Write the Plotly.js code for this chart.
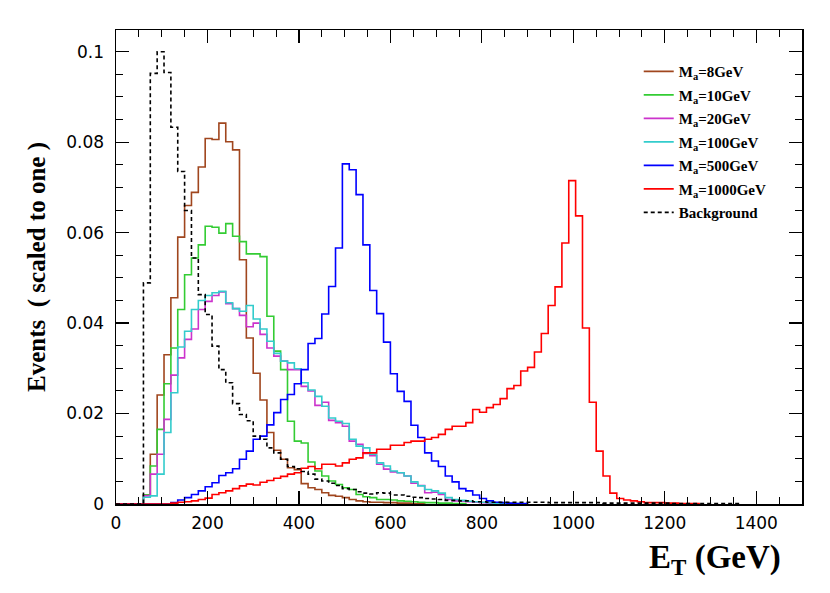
<!DOCTYPE html>
<html>
<head>
<meta charset="utf-8">
<script src="https://cdn.plot.ly/plotly-3.0.1.min.js"></script>
<style>
  html, body { margin: 0; padding: 0; background: #fff; }
  #grafico { width: 830px; height: 593px; }
</style>
</head>
<body>
<div id="grafico"></div>
<script>
// histogram binning: 15 GeV bins starting at 0
const BIN_WIDTH = 15;

// bin contents (scaled to one), bin 0 = [0,15) GeV
const ma8 = [
  0, 0, 0, 0, 0.002, 0.011, 0.0241, 0.033, 0.0456, 0.059,
  0.066, 0.0689, 0.0745, 0.0808, 0.0806, 0.0842, 0.0801, 0.0783, 0.054, 0.0367,
  0.0289, 0.023, 0.0158, 0.0119, 0.0099, 0.008, 0.0076, 0.0045, 0.0036, 0.0032,
  0.0025, 0.0019, 0.0017, 0.0014, 0.001, 0.0007, 0.0005, 0.0004, 0.0004, 0.0003,
  0.0003, 0.0002, 0.0002, 0.0001, 0.0001
];
const ma10 = [
  0, 0, 0, 0, 0.002, 0.0084, 0.0165, 0.0266, 0.0345, 0.043,
  0.0507, 0.0544, 0.0573, 0.0614, 0.0612, 0.0599, 0.062, 0.0592, 0.058, 0.0553,
  0.0553, 0.0547, 0.0415, 0.0338, 0.0297, 0.0183, 0.0139, 0.0135, 0.0093, 0.0073,
  0.0062, 0.0051, 0.0043, 0.0036, 0.0032, 0.0021, 0.0016, 0.0014, 0.001, 0.001,
  0.0009, 0.0007, 0.0006, 0.0005, 0.0004, 0.0003, 0.0003, 0.0002, 0.0002, 0.0001,
  0.0001
];
const ma20 = [
  0, 0, 0, 0, 0.0018, 0.0066, 0.011, 0.0187, 0.0285, 0.0323,
  0.0364, 0.0387, 0.043, 0.0448, 0.0461, 0.0469, 0.0443, 0.0432, 0.0417, 0.0392,
  0.040, 0.0375, 0.0345, 0.0327, 0.0316, 0.0297, 0.0297, 0.026, 0.025, 0.0218,
  0.0225, 0.0185, 0.018, 0.0172, 0.0139, 0.0132, 0.0112, 0.0107, 0.0088, 0.0077,
  0.0071, 0.0069, 0.0062, 0.0046, 0.0041, 0.0025, 0.0026, 0.0021, 0.001, 0.0007,
  0.0006, 0.0005, 0.0004, 0.0003, 0.0002, 0.0002, 0.0001, 0.0001
];
const ma100 = [
  0, 0, 0, 0, 0.0015, 0.0018, 0.0066, 0.0158, 0.0246, 0.0347,
  0.0382, 0.043, 0.045, 0.0461, 0.0467, 0.047, 0.0445, 0.0432, 0.0426, 0.0439,
  0.0409, 0.0387, 0.036, 0.0333, 0.0316, 0.0312, 0.0299, 0.0268, 0.0252, 0.0238,
  0.0216, 0.019, 0.0183, 0.0178, 0.0143, 0.0128, 0.0124, 0.011, 0.0091, 0.0084,
  0.0073, 0.0069, 0.0062, 0.0049, 0.004, 0.0032, 0.0029, 0.0024, 0.0014, 0.001,
  0.0008, 0.0006, 0.0005, 0.0004, 0.0003, 0.0002, 0.0002, 0.0001, 0.0001
];
const ma500 = [
  0, 0, 0, 0, 0, 0, 0, 0, 0.0003, 0.0009,
  0.0014, 0.0021, 0.0029, 0.0038, 0.0047, 0.0063, 0.0069, 0.0078, 0.0099, 0.0117,
  0.0143, 0.015, 0.0175, 0.0202, 0.0231, 0.0242, 0.0266, 0.0297, 0.0355, 0.0366,
  0.042, 0.0481, 0.0566, 0.0752, 0.0739, 0.0684, 0.0573, 0.0472, 0.0421, 0.0358,
  0.0288, 0.0249, 0.0227, 0.0174, 0.0147, 0.0113, 0.0095, 0.0083, 0.0062, 0.0049,
  0.0034, 0.0029, 0.002, 0.0012, 0.0007, 0.0004, 0.0003, 0.0002, 0.0001, 0.0001
];
const ma1000 = [
  0, 0, 0, 0, 0, 0, 0, 0, 0.0002, 0.0004,
  0.0005, 0.0007, 0.001, 0.0013, 0.0021, 0.0025, 0.0029, 0.0034, 0.004, 0.0044,
  0.0042, 0.0048, 0.0052, 0.0057, 0.0061, 0.0066, 0.0069, 0.0079, 0.0083, 0.0078,
  0.0088, 0.0088, 0.0084, 0.0091, 0.0099, 0.0102, 0.0113, 0.0113, 0.0121, 0.0121,
  0.013, 0.013, 0.0136, 0.0139, 0.0139, 0.0143, 0.0147, 0.0154, 0.0165, 0.0172,
  0.0172, 0.018, 0.0209, 0.0203, 0.0213, 0.022, 0.0233, 0.0255, 0.0262, 0.0294,
  0.0302, 0.0336, 0.0377, 0.0439, 0.048, 0.0577, 0.0715, 0.0637, 0.0389, 0.0225,
  0.0117, 0.0062, 0.0024, 0.0012, 0.0009, 0.0007, 0.0005, 0.0003, 0.0003, 0.0003,
  0.0002, 0.0002, 0.0001, 0.0001, 0.0001
];
const background = [
  0, 0, 0, 0, 0.0489, 0.0952, 0.100, 0.0954, 0.0833, 0.0735,
  0.0649, 0.0544, 0.0463, 0.0419, 0.0349, 0.0297, 0.0268, 0.0222, 0.0198, 0.0184,
  0.015, 0.0143, 0.0124, 0.0113, 0.0099, 0.0083, 0.0078, 0.0072, 0.0066, 0.0055,
  0.0051, 0.0046, 0.0041, 0.0034, 0.0032, 0.0027, 0.0024, 0.0022, 0.0025, 0.0024,
  0.002, 0.002, 0.0017, 0.0015, 0.0014, 0.0012, 0.0011, 0.001, 0.0008, 0.0008,
  0.0007, 0.0007, 0.0005, 0.0005, 0.0004, 0.0004, 0.0004, 0.0004, 0.0004, 0.0004,
  0.0004, 0.0004, 0.0004, 0.0003, 0.0003, 0.0003, 0.0003, 0.0003, 0.0003, 0.0003,
  0.0003, 0.0002, 0.0002, 0.0002, 0.0002, 0.0002, 0.0002, 0.0002, 0.0002, 0.0002,
  0.0002, 0.0001, 0.0001, 0.0001, 0.0001, 0.0001, 0.0001, 0.0001, 0.0001, 0.0001,
  0.0001
];

const seriesNames = [
  'M<sub>a</sub>=8GeV', 'M<sub>a</sub>=10GeV', 'M<sub>a</sub>=20GeV',
  'M<sub>a</sub>=100GeV', 'M<sub>a</sub>=500GeV', 'M<sub>a</sub>=1000GeV', 'Background'
];
const seriesData = [ma8, ma10, ma20, ma100, ma500, ma1000, background];
const colores = ['#a0461e', '#33cc33', '#cc33cc', '#33cccc', '#0000ff', '#ff0000', '#000000'];

// step outline like ROOT "HIST": left edges + closing edge dropping back to 0
function stepTrace(vals, name, color, i) {
  const x = vals.map((_, k) => k * BIN_WIDTH);
  x.push(vals.length * BIN_WIDTH);
  const y = vals.slice();
  y.push(0);
  return {
    x, y, name,
    type: 'scatter',
    mode: 'lines',
    legendgroup: 'g' + i,
    line: {
      shape: 'hv', color, width: 1.6,
      dash: name === 'Background' ? '4px,3px' : 'solid'
    },
    hoverinfo: 'skip'
  };
}

const trazas = seriesData.map((vals, i) => stepTrace(vals, seriesNames[i], colores[i], i));

const tickFont = { family: 'DejaVu Sans, Arial, sans-serif', size: 17, color: '#000' };
const serifBold = 'Liberation Serif, Times New Roman, serif';

const layout = {
  width: 830,
  height: 593,
  margin: { l: 116, r: 28, t: 30, b: 89 },
  paper_bgcolor: '#fff',
  plot_bgcolor: '#fff',
  showlegend: true,
  legend: {
    x: 0.762, y: 0.947, xanchor: 'left', yanchor: 'top',
    bgcolor: 'rgba(0,0,0,0)',
    font: { family: serifBold, size: 15, weight: 'bold', color: '#000' },
    tracegroupgap: 1,
    itemwidth: 30
  },
  xaxis: {
    range: [0, 1500],
    tick0: 0, dtick: 200,
    ticks: 'inside', ticklen: 13, tickwidth: 1.2, tickcolor: '#000',
    minor: { dtick: 50, ticks: 'inside', ticklen: 7, tickwidth: 1, tickcolor: '#000' },
    showline: true, mirror: 'allticks', linecolor: '#000', linewidth: 1.5,
    showgrid: false, zeroline: false,
    tickfont: tickFont,
    ticklabelstandoff: 3
  },
  yaxis: {
    range: [0, 0.1048],
    tick0: 0, dtick: 0.02,
    ticks: 'inside', ticklen: 13, tickwidth: 1.2, tickcolor: '#000',
    minor: { dtick: 0.005, ticks: 'inside', ticklen: 7, tickwidth: 1, tickcolor: '#000' },
    showline: true, mirror: 'allticks', linecolor: '#000', linewidth: 1.5,
    showgrid: false, zeroline: false,
    tickfont: tickFont,
    ticklabelstandoff: 7,
    title: {
      text: 'Events  ( scaled to one )',
      font: { family: serifBold, size: 25, weight: 'bold', color: '#000' },
      standoff: 13
    }
  },
  annotations: [{
    text: 'E<sub>T</sub> (GeV)',
    xref: 'paper', yref: 'paper',
    x: 0.972, y: -0.118, xanchor: 'right', yanchor: 'middle',
    showarrow: false,
    font: { family: serifBold, size: 33, weight: 'bold', color: '#000' }
  }]
};

Plotly.newPlot('grafico', trazas, layout, { displayModeBar: false, staticPlot: true });
</script>
</body>
</html>
